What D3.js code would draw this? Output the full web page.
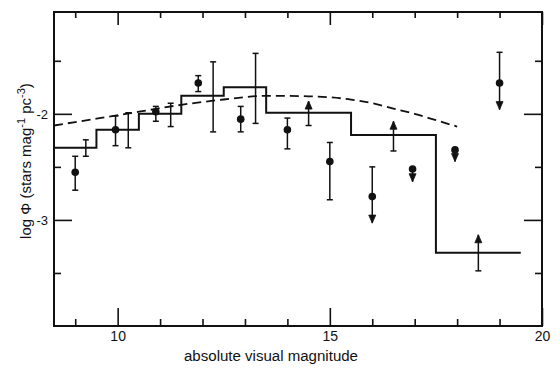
<!DOCTYPE html>
<html>
<head>
<meta charset="utf-8">
<script src="https://cdn.jsdelivr.net/npm/d3@7.9.0/dist/d3.min.js"></script>
<style>
  body { margin: 0; background: #fff; }
  svg { display: block; font-family: "Liberation Sans", Arial, sans-serif; }
</style>
</head>
<body>
<div id="chart"></div>
<script>
// histogram (solid steps)
const binEdges = [8.5, 9.5, 10.5, 11.5, 12.5, 13.5, 15.5, 17.5, 19.5];
const binValues = [-2.32, -2.15, -2.0, -1.83, -1.75, -1.99, -2.2, -3.31];

// error bars of the histogram (caps, no dot)
const binErrMag = [9.25, 10.25, 11.25, 12.25, 13.25];
const binErrLow = [-2.40, -2.32, -2.12, -2.17, -2.09];
const binErrHigh = [-2.245, -1.99, -1.90, -1.51, -1.43];

// lower limits (arrow up)
const lowerMag = [14.5, 16.5, 18.5];
const lowerFrom = [-2.11, -2.35, -3.48];
const lowerTo = [-1.88, -2.07, -3.14];

// points with error bars
const pointMag = [9.0, 9.95, 10.9, 11.9, 12.9, 14.0, 15.0];
const pointValue = [-2.55, -2.15, -1.98, -1.71, -2.05, -2.15, -2.45];
const pointLow = [-2.72, -2.30, -2.07, -1.79, -2.17, -2.33, -2.81];
const pointHigh = [-2.40, -2.02, -1.93, -1.64, -1.93, -2.04, -2.27];

// points that are upper limits (arrow down)
const upperMag = [16.0, 16.95, 17.95, 19.0];
const upperValue = [-2.78, -2.52, -2.34, -1.71];
const upperHigh = [-2.5, null, null, -1.42];
const upperTo = [-3.03, -2.64, -2.45, -1.96];

// dashed curve
const curveMag = [8.5, 9.5, 10.5, 11.5, 12.5, 13.5, 14.5, 15.5, 16.0, 16.5, 17.0, 17.5, 18.0];
const curveValue = [-2.11, -2.045, -1.98, -1.915, -1.865, -1.83, -1.835, -1.865, -1.90, -1.95, -2.0, -2.06, -2.12];

const xMajor = [10, 15, 20];
const xMinor = [9, 11, 12, 13, 14, 16, 17, 18, 19];
const yMajor = [-2, -3];
const yMinor = [-1.5, -2.5, -3.5];

const width = 560, height = 373;
const margin = { top: 12, right: 18, bottom: 47, left: 54 };
const ink = "#111";

const svg = d3.select("#chart").append("svg")
  .attr("width", width).attr("height", height);

const x = d3.scaleLinear().domain([8.5, 20]).range([margin.left, width - margin.right]);
const y = d3.scaleLinear().domain([-4, -1.04]).range([height - margin.bottom, margin.top]);

const [x0, x1] = x.range();
const [y0, y1] = y.range();

// ticks (all pointing inward)
function addAxis(axis, tx, ty, labels) {
  const g = svg.append("g").attr("transform", `translate(${tx},${ty})`).call(axis);
  g.select(".domain").remove();
  g.selectAll(".tick line").attr("stroke", ink).attr("stroke-width", 1.6);
  g.selectAll("text").attr("fill", ink).attr("font-size", 14);
  if (!labels) g.selectAll("text").remove();
  return g;
}
addAxis(d3.axisBottom(x).tickValues(xMajor).tickSize(-18).tickPadding(5).tickFormat(d3.format("d")), 0, y0, true);
addAxis(d3.axisBottom(x).tickValues(xMinor).tickSize(-7), 0, y0, false);
addAxis(d3.axisTop(x).tickValues(xMajor).tickSize(-13), 0, y1, false);
addAxis(d3.axisTop(x).tickValues(xMinor).tickSize(-6), 0, y1, false);
addAxis(d3.axisLeft(y).tickValues(yMajor).tickSize(-18).tickPadding(6).tickFormat(d => d), x0, 0, true)
  .selectAll("text").attr("font-size", 13);
addAxis(d3.axisLeft(y).tickValues(yMinor).tickSize(-7), x0, 0, false);
addAxis(d3.axisRight(y).tickValues(yMajor).tickSize(-18), x1, 0, false);
addAxis(d3.axisRight(y).tickValues(yMinor).tickSize(-7), x1, 0, false);

// frame
svg.append("rect")
  .attr("x", x0).attr("y", y1)
  .attr("width", x1 - x0).attr("height", y0 - y1)
  .attr("fill", "none").attr("stroke", ink).attr("stroke-width", 2);

// dashed curve
svg.append("path")
  .datum(curveMag.map((m, i) => [m, curveValue[i]]))
  .attr("fill", "none").attr("stroke", ink).attr("stroke-width", 1.8)
  .attr("stroke-dasharray", "9,5")
  .attr("d", d3.line().x(d => x(d[0])).y(d => y(d[1])).curve(d3.curveMonotoneX));

// histogram steps
const steps = binValues.map((v, i) => [binEdges[i], v]);
steps.push([binEdges[binEdges.length - 1], binValues[binValues.length - 1]]);
svg.append("path")
  .datum(steps)
  .attr("fill", "none").attr("stroke", ink).attr("stroke-width", 2)
  .attr("d", d3.line().x(d => x(d[0])).y(d => y(d[1])).curve(d3.curveStepAfter));

const marks = svg.append("g").attr("stroke", ink).attr("fill", ink).attr("stroke-width", 1.5);

function vline(m, a, b) {
  marks.append("line").attr("x1", x(m)).attr("x2", x(m)).attr("y1", y(a)).attr("y2", y(b));
}
function cap(m, v) {
  marks.append("line").attr("x1", x(m) - 3).attr("x2", x(m) + 3).attr("y1", y(v)).attr("y2", y(v));
}
function arrow(m, tip, dir) {
  // dir = -1 points up, +1 points down (screen)
  const tx = x(m), ty = y(tip);
  const p = d3.path();
  p.moveTo(tx, ty);
  p.lineTo(tx - 3.5, ty - dir * 8);
  p.lineTo(tx + 3.5, ty - dir * 8);
  p.closePath();
  marks.append("path").attr("d", p.toString()).attr("stroke-width", 0.8);
}
function dot(m, v) {
  marks.append("circle").attr("cx", x(m)).attr("cy", y(v)).attr("r", 3.8).attr("stroke", "none");
}

binErrMag.forEach((m, i) => {
  vline(m, binErrLow[i], binErrHigh[i]);
  cap(m, binErrLow[i]); cap(m, binErrHigh[i]);
});

lowerMag.forEach((m, i) => {
  vline(m, lowerFrom[i], lowerTo[i]);
  cap(m, lowerFrom[i]);
  arrow(m, lowerTo[i], -1);
});

pointMag.forEach((m, i) => {
  vline(m, pointLow[i], pointHigh[i]);
  cap(m, pointLow[i]); cap(m, pointHigh[i]);
  dot(m, pointValue[i]);
});

upperMag.forEach((m, i) => {
  const top = upperHigh[i] === null ? upperValue[i] : upperHigh[i];
  vline(m, top, upperTo[i]);
  if (upperHigh[i] !== null) cap(m, upperHigh[i]);
  dot(m, upperValue[i]);
  arrow(m, upperTo[i], 1);
});

// axis titles
svg.append("text")
  .attr("x", 271).attr("y", 361)
  .attr("text-anchor", "middle").attr("font-size", 14).attr("fill", ink)
  .attr("textLength", 174).attr("lengthAdjust", "spacingAndGlyphs")
  .text("absolute visual magnitude");

const yl = svg.append("text")
  .attr("transform", `translate(31,161) rotate(-90)`)
  .attr("text-anchor", "middle").attr("font-size", 15).attr("fill", ink);
yl.append("tspan").text("log Φ (stars mag");
yl.append("tspan").attr("dy", -6).attr("font-size", 11).text("-1");
yl.append("tspan").attr("dy", 6).text(" pc");
yl.append("tspan").attr("dy", -6).attr("font-size", 11).text("-3");
yl.append("tspan").attr("dy", 6).text(")");
</script>
</body>
</html>
